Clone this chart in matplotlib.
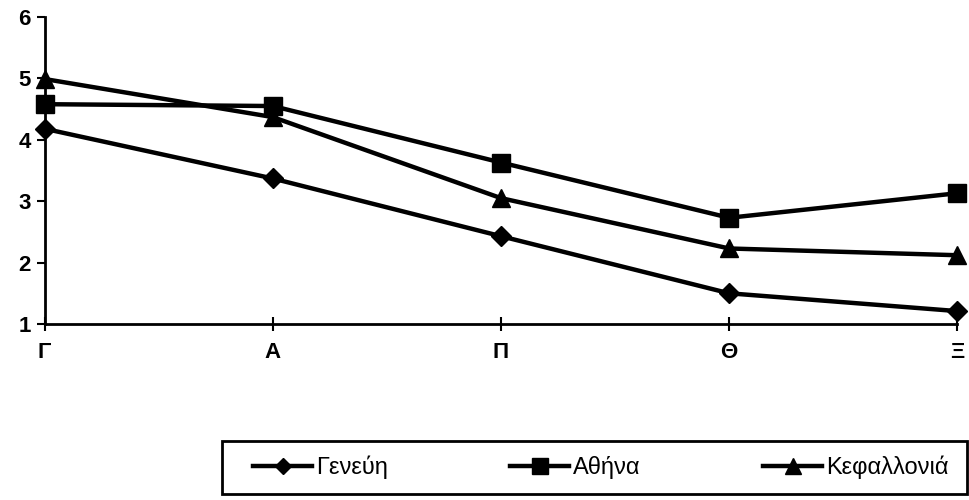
import matplotlib.pyplot as plt
from matplotlib.patches import Rectangle

plt.rcParams['font.family'] = ['Liberation Sans', 'DejaVu Sans']

# categories and series
categories = ['Γ', 'Α', 'Π', 'Θ', 'Ξ']
geneva = [4.18, 3.37, 2.43, 1.50, 1.21]
athens = [4.58, 4.55, 3.63, 2.73, 3.13]
kefalonia = [4.99, 4.37, 3.05, 2.23, 2.12]
y_ticks = [1, 2, 3, 4, 5, 6]

fig = plt.figure(figsize=(9.69, 5.0), dpi=100)
ax = fig.add_axes([0.046, 0.352, 0.942, 0.614])

x = range(len(categories))
lw = 3.2
ax.plot(x, geneva, color='black', lw=lw, marker='D', ms=10, label='Γενεύη')
ax.plot(x, athens, color='black', lw=lw, marker='s', ms=13, label='Αθήνα')
ax.plot(x, kefalonia, color='black', lw=lw, marker='^', ms=13, label='Κεφαλλονιά')

ax.set_xlim(0, len(categories) - 1)
ax.set_ylim(1, 6)
ax.set_xticks(list(x))
ax.set_xticklabels(categories, fontsize=16, fontweight='bold')
ax.set_yticks(y_ticks)
ax.set_yticklabels([str(v) for v in y_ticks], fontsize=16, fontweight='bold')
ax.tick_params(axis='x', direction='inout', length=10, width=1.5, pad=8)
ax.tick_params(axis='y', direction='out', length=6, width=1.5, pad=4)
for side in ['top', 'right']:
    ax.spines[side].set_visible(False)
for side in ['left', 'bottom']:
    ax.spines[side].set_linewidth(2)
    ax.spines[side].set_clip_on(False)
for line in ax.lines:
    line.set_clip_on(False)

# legend box drawn separately, entries centred inside it
box = Rectangle((0.229, 0.012), 0.769, 0.106, transform=fig.transFigure,
                fill=False, edgecolor='black', lw=2)
fig.patches.append(box)
fig.legend(loc='center', bbox_to_anchor=(0.62, 0.065), ncol=3, fontsize=17,
           frameon=False, handlelength=2.5, handletextpad=0.15, columnspacing=5.2,
           markerscale=0.85)

fig.savefig('out.png', dpi=100)
